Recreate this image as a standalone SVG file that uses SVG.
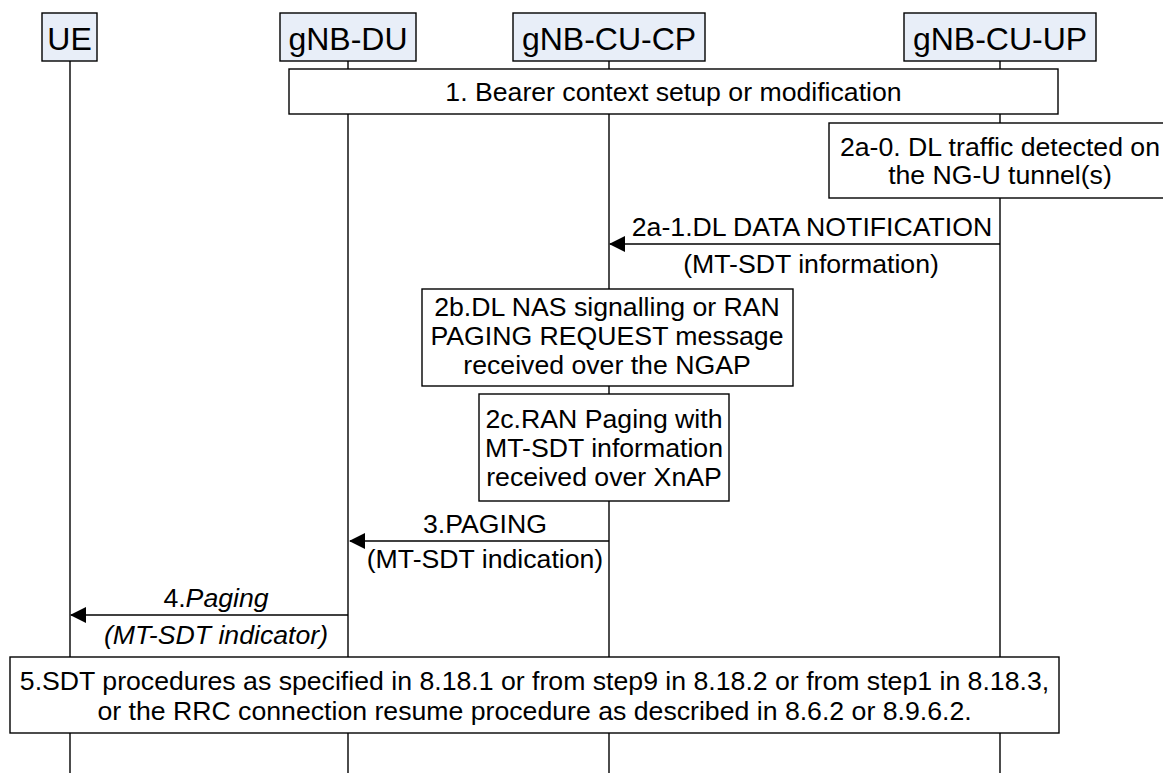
<svg xmlns="http://www.w3.org/2000/svg" width="1163" height="773" viewBox="0 0 1163 773">
<style>
text{font-family:"Liberation Sans",Arial,sans-serif;fill:#000}
.hdr rect{fill:#E8EEF8;stroke:#000;stroke-width:1.4}
.hdr text{font-size:32px;text-anchor:middle}
.box rect{fill:#fff;stroke:#000;stroke-width:1.4}
.box text,.lbl{font-size:26.67px;text-anchor:middle}
.life{stroke:#000;stroke-width:1.4}
.msg{stroke:#000;stroke-width:1.4;fill:none;marker-end:url(#ah)}
.it{font-style:italic}
</style>
<defs>
<marker id="ah" viewBox="0 0 16 16" refX="15" refY="8" markerWidth="16" markerHeight="16" markerUnits="userSpaceOnUse" orient="auto">
<path d="M0,0 L16,8 L0,16 Z" fill="#000"/>
</marker>
</defs>
<g id="lifelines">
<line class="life" x1="70" y1="61" x2="70" y2="773"/>
<line class="life" x1="348" y1="61" x2="348" y2="773"/>
<line class="life" x1="609" y1="61" x2="609" y2="773"/>
<line class="life" x1="1000" y1="61" x2="1000" y2="773"/>
</g>
<g id="UE" class="hdr"><rect x="42" y="13" width="55" height="48"/><text x="69.5" y="50">UE</text></g>
<g id="gNB-DU" class="hdr"><rect x="280" y="13" width="136" height="48"/><text x="348" y="50">gNB-DU</text></g>
<g id="gNB-CU-CP" class="hdr"><rect x="513" y="13" width="192" height="48"/><text x="609" y="50">gNB-CU-CP</text></g>
<g id="gNB-CU-UP" class="hdr"><rect x="904" y="13" width="192" height="48"/><text x="1000" y="50">gNB-CU-UP</text></g>
<g id="step1" class="box"><rect x="289" y="69" width="769" height="45"/><text x="673.5" y="101">1. Bearer context setup or modification</text></g>
<g id="step2a0" class="box"><rect x="829" y="123" width="345" height="75"/><text x="1000" y="156">2a-0. DL traffic detected on</text><text x="1000" y="184">the NG-U tunnel(s)</text></g>
<g id="step2b" class="box"><rect x="422" y="289" width="371" height="97"/><text x="607" y="316">2b.DL NAS signalling or RAN</text><text x="607" y="345">PAGING REQUEST message</text><text x="607" y="374">received over the NGAP</text></g>
<g id="step2c" class="box"><rect x="479" y="394" width="250" height="107"/><text x="604" y="428">2c.RAN Paging with</text><text x="604" y="457">MT-SDT information</text><text x="604" y="486">received over XnAP</text></g>
<g id="step5" class="box"><rect x="10" y="657" width="1049" height="76"/><text x="534.5" y="690">5.SDT procedures as specified in 8.18.1 or from step9 in 8.18.2 or from step1 in 8.18.3,</text><text x="534.5" y="720">or the RRC connection resume procedure as described in 8.6.2 or 8.9.6.2.</text></g>
<g id="connectors">
<line class="msg" x1="1000" y1="244" x2="610" y2="244"/>
<line class="msg" x1="609" y1="541" x2="350" y2="541"/>
<line class="msg" x1="348" y1="615" x2="71" y2="615"/>
</g>
<g id="labels">
<text class="lbl" x="812" y="236">2a-1.DL DATA NOTIFICATION</text>
<text class="lbl" x="811" y="273">(MT-SDT information)</text>
<text class="lbl" x="485" y="533">3.PAGING</text>
<text class="lbl" x="485" y="568">(MT-SDT indication)</text>
<text class="lbl" x="216" y="607">4.<tspan class="it">Paging</tspan></text>
<text class="lbl it" x="216" y="644">(MT-SDT indicator)</text>
</g>
</svg>
